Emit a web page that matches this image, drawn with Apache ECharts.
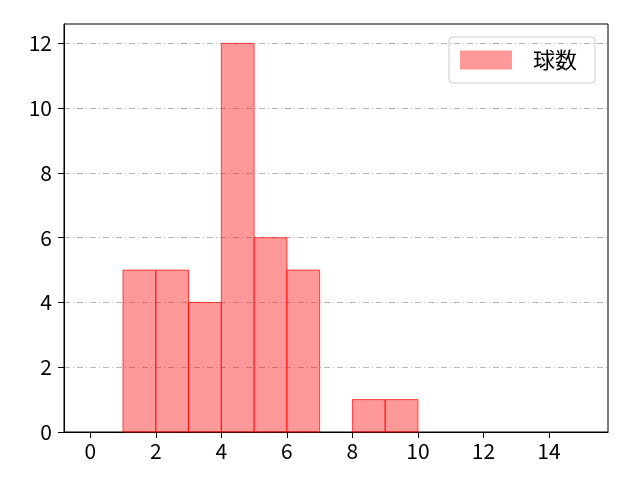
<!DOCTYPE html>
<html><head><meta charset="utf-8">
<script src="https://cdn.jsdelivr.net/npm/echarts@6/dist/echarts.min.js"></script>
<style>html,body{margin:0;padding:0;background:#fff}#c{width:640px;height:480px}</style>
</head><body><div id="c"></div>
<script>
const seriesName = '球数';
const binStarts = [1, 2, 3, 4, 5, 6, 7, 8, 9];
const binEnds = [2, 3, 4, 5, 6, 7, 8, 9, 10];
const counts = [5, 5, 4, 12, 6, 5, 0, 1, 1];
const xTicks = [0, 2, 4, 6, 8, 10, 12, 14];
const yTicks = [0, 2, 4, 6, 8, 10, 12];

const data = binStarts.map((s, i) => [s, binEnds[i], counts[i]]);
const font = 'Noto Sans CJK JP';
const chart = echarts.init(document.getElementById('c'));
chart.setOption({
  animation: false,
  textStyle: { fontFamily: font },
  grid: { left: 64, right: 32, top: 24, bottom: 48, show: true, borderColor: '#000', borderWidth: 1, backgroundColor: 'transparent' },
  legend: {
    data: [{ name: seriesName, icon: 'rect' }],
    right: 45, top: 37,
    itemWidth: 52, itemHeight: 19,
    padding: [12, 18, 12, 11],
    borderColor: '#cccccc', borderWidth: 1, borderRadius: 4,
    textStyle: { fontSize: 22, color: '#000', fontFamily: font, padding: [0, 0, 0, 16] }
  },
  xAxis: {
    type: 'value', min: -0.8, max: 15.8,
    axisLine: { show: true, onZero: false, lineStyle: { color: '#000' } },
    axisTick: { show: true, length: 6, customValues: xTicks, lineStyle: { color: '#000' } },
    axisLabel: { customValues: xTicks, fontSize: 21, color: '#000', margin: 9, fontFamily: font },
    splitLine: { show: false }
  },
  yAxis: {
    type: 'value', min: 0, max: 12.6,
    axisLine: { show: true, onZero: false, lineStyle: { color: '#000' } },
    axisTick: { show: true, length: 6, customValues: yTicks, lineStyle: { color: '#000' } },
    axisLabel: { customValues: yTicks, fontSize: 21, color: '#000', margin: 12, fontFamily: font },
    splitLine: { show: true, lineStyle: { color: '#b0b0b0', width: 0.9, type: [6, 3, 1, 3] } }
  },
  series: [{
    name: seriesName,
    type: 'custom',
    itemStyle: { color: 'rgba(255,0,0,0.4)', borderColor: 'rgba(255,0,0,0.7)' },
    renderItem: function (params, api) {
      const x0 = api.value(0), x1 = api.value(1), y = api.value(2);
      if (!y) return null;
      const p0 = api.coord([x0, y]);
      const p1 = api.coord([x1, 0]);
      return {
        type: 'rect',
        shape: { x: p0[0], y: p0[1], width: p1[0] - p0[0], height: p1[1] - p0[1] },
        style: { fill: 'rgba(255,0,0,0.4)', stroke: 'rgba(255,0,0,0.7)', lineWidth: 1 }
      };
    },
    encode: { x: [0, 1], y: 2 },
    data: data
  }]
});
</script></body></html>
